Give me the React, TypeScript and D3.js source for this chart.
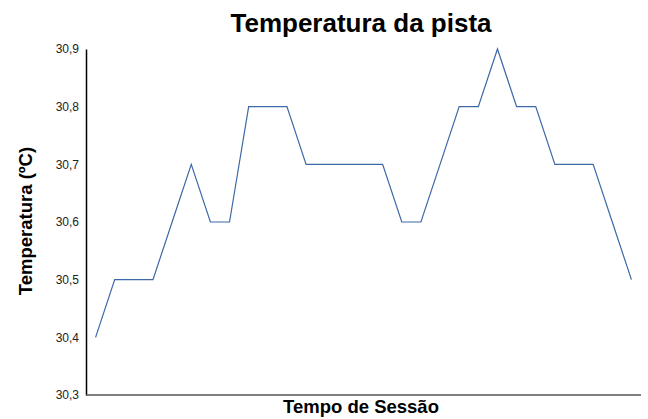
import React, { useEffect, useRef } from 'react';
import * as d3 from 'd3';

// one reading per lap sample
const samples: number[] = Array.from({ length: 29 }, (_, i) => i + 1);
const temps: number[] = [
  30.4, 30.5, 30.5, 30.5, 30.6, 30.7, 30.6, 30.6, 30.8, 30.8,
  30.8, 30.7, 30.7, 30.7, 30.7, 30.7, 30.6, 30.6, 30.7, 30.8,
  30.8, 30.9, 30.8, 30.8, 30.7, 30.7, 30.7, 30.6, 30.5,
];
const yTicks: number[] = [30.3, 30.4, 30.5, 30.6, 30.7, 30.8, 30.9];

const W = 648;
const H = 419;
const FONT = "'Liberation Sans', Arial, sans-serif";

export default function App() {
  const ref = useRef<SVGSVGElement>(null);

  useEffect(() => {
    const svg = d3.select(ref.current);
    svg.selectAll('*').remove();

    const left = 86, right = 641, top = 49, bottom = 395;

    const x = d3.scaleBand<number>().domain(samples).range([left, right]);
    const y = d3.scaleLinear().domain([30.3, 30.9]).range([bottom, top]);

    // y axis
    const yAxis = svg.append('g')
      .attr('transform', `translate(${left},0)`)
      .call(d3.axisLeft(y).tickValues(yTicks).tickSize(0).tickPadding(7)
        .tickFormat((d) => d3.format('.1f')(d as number).replace('.', ',')));
    yAxis.select('.domain').attr('stroke', '#000').attr('stroke-width', 1.5);
    yAxis.selectAll('text')
      .attr('font-family', FONT)
      .attr('font-size', 12)
      .attr('fill', '#222');

    // x axis line, no labels
    svg.append('line')
      .attr('x1', left).attr('x2', right)
      .attr('y1', bottom).attr('y2', bottom)
      .attr('stroke', '#555').attr('stroke-width', 1.5);

    const line = d3.line<number>()
      .x((_, i) => (x(samples[i]) as number) + x.bandwidth() / 2)
      .y((d) => y(d));

    svg.append('path')
      .datum(temps)
      .attr('d', line)
      .attr('fill', 'none')
      .attr('stroke', '#3d68a8')
      .attr('stroke-width', 1.2);

    svg.append('text')
      .attr('x', 361).attr('y', 32)
      .attr('text-anchor', 'middle')
      .attr('font-family', FONT)
      .attr('font-weight', 'bold')
      .attr('font-size', 26)
      .text('Temperatura da pista');

    svg.append('text')
      .attr('x', 361).attr('y', 413)
      .attr('text-anchor', 'middle')
      .attr('font-family', FONT)
      .attr('font-weight', 'bold')
      .attr('font-size', 18.5)
      .text('Tempo de Sessão');

    svg.append('text')
      .attr('transform', 'translate(32,221) rotate(-90)')
      .attr('text-anchor', 'middle')
      .attr('font-family', FONT)
      .attr('font-weight', 'bold')
      .attr('font-size', 18.5)
      .text('Temperatura (ºC)');
  }, []);

  return (
    <svg ref={ref} width={W} height={H}
      style={{ position: 'absolute', left: 0, top: 0, background: '#fff' }} />
  );
}
